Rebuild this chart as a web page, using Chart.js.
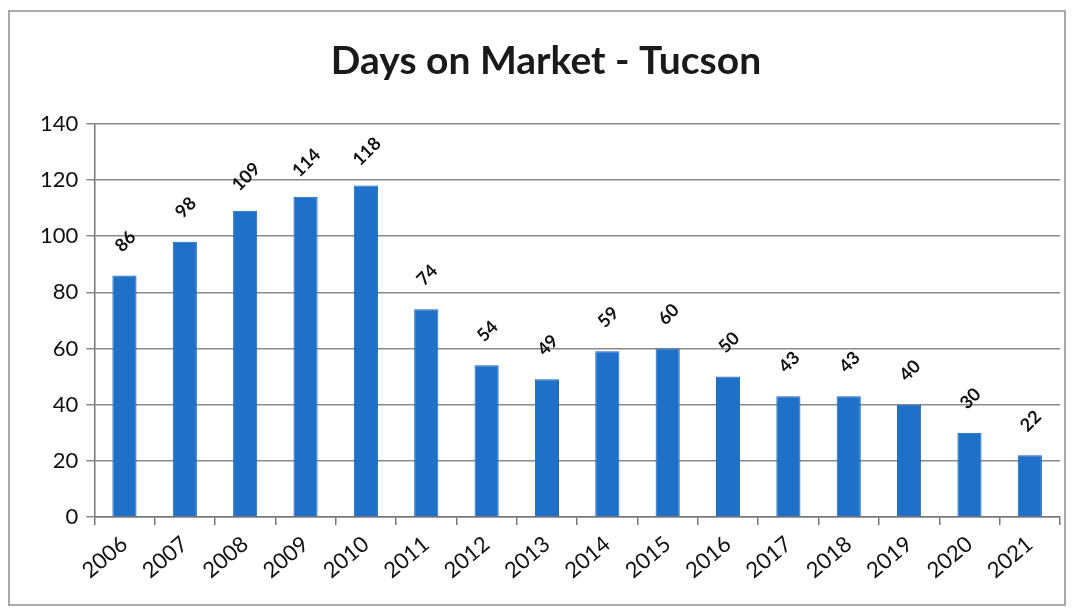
<!DOCTYPE html>
<html>
<head>
<meta charset="utf-8">
<script src="https://cdn.jsdelivr.net/npm/chart.js@4/dist/chart.umd.min.js"></script>
<style>
  body { margin: 0; background: #fff; }
  #box { position: absolute; left: 8px; top: 10px; width: 1054px; height: 592px; border: 2px solid #a8a8a8; }
  canvas { display: block; }
</style>
</head>
<body>
<div id="box"><canvas id="domChart" width="1054" height="592"></canvas></div>
<script>
// Data
const years = ['2006', '2007', '2008', '2009', '2010', '2011', '2012', '2013',
               '2014', '2015', '2016', '2017', '2018', '2019', '2020', '2021'];
const daysOnMarket = [86, 98, 109, 114, 118, 74, 54, 49, 59, 60, 50, 43, 43, 40, 30, 22];
const yTicks = [0, 20, 40, 60, 80, 100, 120, 140];

// label angka miring di atas batang
const barLabels = {
    id: 'barLabels',
    afterDatasetsDraw(chart) {
        const ctx = chart.ctx;
        const meta = chart.getDatasetMeta(0);
        ctx.save();
        ctx.font = 'bold 18px Lato';
        ctx.fillStyle = '#111';
        ctx.textAlign = 'center';
        ctx.textBaseline = 'middle';
        meta.data.forEach((bar, i) => {
            ctx.save();
            ctx.translate(bar.x + 1, bar.y - 34);
            ctx.rotate(-Math.PI / 4);
            ctx.fillText(String(daysOnMarket[i]), 0, 0);
            ctx.restore();
        });
        ctx.restore();
    }
};

const ctx = document.getElementById('domChart').getContext('2d');
const domChart = new Chart(ctx, {
    type: 'bar',
    data: {
        labels: years,
        datasets: [{
            label: 'Days on Market',
            data: daysOnMarket,
            backgroundColor: '#1f70c8',
            borderColor: '#1a63b5',
            borderWidth: 1,
            barPercentage: 0.8,
            categoryPercentage: 0.5
        }]
    },
    options: {
        responsive: false,
        animation: false,
        layout: { padding: { left: 22, right: 4, top: 14, bottom: 14 } },
        plugins: {
            legend: { display: false },
            tooltip: { enabled: false },
            title: {
                display: true,
                text: 'Days on Market - Tucson',
                color: '#1a1a1a',
                font: { family: 'Lato', size: 39, weight: 'bold' },
                padding: { top: 12, bottom: 39 }
            }
        },
        scales: {
            x: {
                grid: { display: true, drawOnChartArea: false, offset: true, tickLength: 8, color: '#777', lineWidth: 1.5 },
                border: { color: '#777', width: 1.5 },
                ticks: {
                    color: '#111',
                    font: { family: 'Lato', size: 22 },
                    minRotation: 40,
                    maxRotation: 40,
                    padding: 6
                }
            },
            y: {
                min: 0,
                max: 140,
                afterBuildTicks: axis => { axis.ticks = yTicks.map(v => ({ value: v })); },
                grid: { color: '#8a8a8a', lineWidth: 1.5, tickLength: 8 },
                border: { color: '#777', width: 1.5 },
                ticks: {
                    color: '#111',
                    font: { family: 'Lato', size: 22 },
                    padding: 8
                }
            }
        }
    },
    plugins: [barLabels]
});
</script>
</body>
</html>
